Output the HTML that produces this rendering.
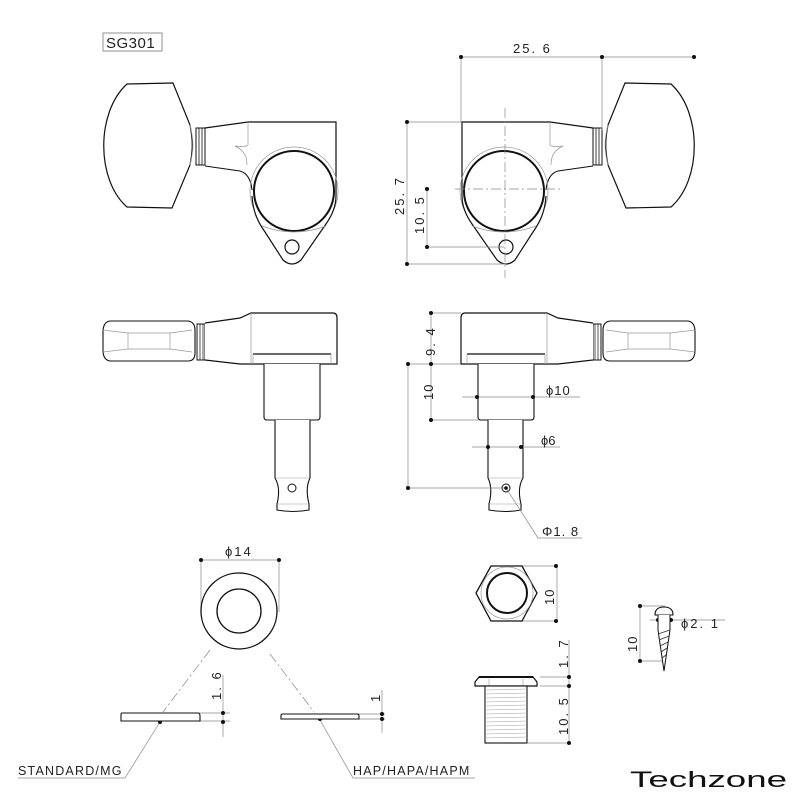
<!DOCTYPE html>
<html><head><meta charset="utf-8"><style>
html,body{margin:0;padding:0;background:#fff}
svg{display:block}
text{font-family:"Liberation Sans",sans-serif;fill:#222}
</style></head><body>
<svg width="800" height="800" viewBox="0 0 800 800" xmlns="http://www.w3.org/2000/svg">
<defs>
<g id="top">
  <path d="M173,83 L127,84 C96,112 96,180 127,207 L172,208 L190,165 C193,150 193,140 190,125 Z" fill="#fff" stroke="#111" stroke-width="1.2"/>
  <path d="M190,125 C194,140 194,150 190,165" fill="none" stroke="#aaa" stroke-width="0.7"/>
  <rect x="196" y="128" width="9" height="37" fill="#fff" stroke="#111" stroke-width="1"/>
  <line x1="199" y1="128" x2="199" y2="165" stroke="#111" stroke-width="0.8"/>
  <line x1="202" y1="128" x2="202" y2="165" stroke="#111" stroke-width="0.8"/>
  <path d="M205,128 L248,122 L336,122 L336,196" fill="none" stroke="#111" stroke-width="1.2"/>
  <path d="M205,166 L240,171 C247,173 251,180 252,190" fill="none" stroke="#111" stroke-width="1.1"/>
  <path d="M248,122 L248,145 C245,148 240,146 235,146 C243,150 247,155 247,165" fill="none" stroke="#999" stroke-width="0.7"/>
  <circle cx="294" cy="191" r="44" fill="none" stroke="#999" stroke-width="0.7"/>
  <path d="M252,196 C253,212 258,222 265,232 L283,260 Q292,268 301,260 L326,224 C333,214 336,205 336,196" fill="#fff" stroke="#111" stroke-width="1.2"/>
  <circle cx="294" cy="191" r="40" fill="#fff" stroke="#111" stroke-width="2"/>
  <path d="M262,226 Q294,238 326,226" fill="none" stroke="#999" stroke-width="0.7"/>
  <circle cx="292" cy="247" r="7" fill="#fff" stroke="#111" stroke-width="1.2"/>
</g>
<g id="side">
  <path d="M110,321 L188,321 Q195,322 195,330 L195,353 Q195,361 188,361 L110,361 Q103,360 103,350 L103,332 Q103,322 110,321 Z" fill="#fff" stroke="#111" stroke-width="1.1"/>
  <path d="M103,330 L128,333 L170,333 L192,330 M103,352 L128,349 L170,349 L192,352 M128,333 L128,349 M170,333 L170,349" fill="none" stroke="#999" stroke-width="0.7"/>
  <rect x="197" y="324" width="8" height="36" fill="#fff" stroke="#111" stroke-width="1"/>
  <line x1="200" y1="324" x2="200" y2="360" stroke="#111" stroke-width="0.7"/>
  <line x1="203" y1="324" x2="203" y2="360" stroke="#111" stroke-width="0.7"/>
  <path d="M205,323 L240,318 L251,313 L333,313 Q337,313 337,318 L337,364 L251,364 L240,364 L205,360" fill="#fff" stroke="#111" stroke-width="1.2"/>
  <line x1="251" y1="313" x2="251" y2="364" stroke="#999" stroke-width="0.7"/>
  <line x1="253" y1="354" x2="331" y2="354" stroke="#111" stroke-width="1.2"/>
  <line x1="253" y1="354" x2="253" y2="364" stroke="#999" stroke-width="0.7"/>
  <line x1="331" y1="354" x2="331" y2="364" stroke="#999" stroke-width="0.7"/>
  <path d="M264,364 L264,417 Q264,420 267,420 L317,420 Q320,420 320,417 L320,364" fill="#fff" stroke="#111" stroke-width="1.1"/>
  <path d="M275,420 L275,478 Q281,488 277,504 L277,510 Q293,513 309,510 L309,504 Q305,488 310,478 L310,420" fill="#fff" stroke="#111" stroke-width="1.1"/>
  <line x1="276" y1="478" x2="309" y2="478" stroke="#999" stroke-width="0.6"/>
  <line x1="278" y1="504" x2="308" y2="504" stroke="#999" stroke-width="0.6"/>
  <circle cx="292" cy="488" r="4" fill="#fff" stroke="#111" stroke-width="1"/>
</g>
</defs>

<rect x="103" y="33" width="59" height="18" fill="none" stroke="#777" stroke-width="0.8"/>
<text x="106" y="48" font-size="15" letter-spacing="0.5">SG301</text>

<use href="#top"/>
<use href="#top" transform="translate(798,0) scale(-1,1)"/>
<use href="#side"/>
<use href="#side" transform="translate(798,0) scale(-1,1)"/>

<g stroke="#888" stroke-width="0.7" fill="none">
  <line x1="461" y1="57" x2="694" y2="57"/>
  <line x1="461" y1="57" x2="461" y2="122"/>
  <line x1="602" y1="57" x2="602" y2="130"/>
  <line x1="407" y1="122" x2="461" y2="122"/>
  <line x1="407" y1="122" x2="407" y2="264"/>
  <line x1="407" y1="264" x2="506" y2="264"/>
  <line x1="427" y1="189" x2="427" y2="247"/>
  <line x1="427" y1="247" x2="504" y2="247"/>
  <line x1="431" y1="313" x2="461" y2="313"/>
  <line x1="431" y1="313" x2="431" y2="420"/>
  <line x1="408" y1="364" x2="461" y2="364"/>
  <line x1="408" y1="364" x2="408" y2="488"/>
  <line x1="408" y1="488" x2="506" y2="488"/>
  <line x1="431" y1="420" x2="478" y2="420"/>
  <line x1="462" y1="397" x2="580" y2="397"/>
  <line x1="472" y1="447" x2="560" y2="447"/>
  <polyline points="506,488 538,538 582,538"/>
  <line x1="201" y1="560" x2="279" y2="560"/>
  <line x1="201" y1="560" x2="201" y2="612"/>
  <line x1="279" y1="560" x2="279" y2="612"/>
  <line x1="198" y1="713" x2="230" y2="713"/>
  <line x1="198" y1="721" x2="230" y2="721"/>
  <line x1="223" y1="675" x2="223" y2="737"/>
  <line x1="358" y1="714" x2="385" y2="714"/>
  <line x1="358" y1="719" x2="385" y2="719"/>
  <line x1="382" y1="690" x2="382" y2="733"/>
  <polyline points="160,722 125,778 18,778"/>
  <polyline points="320,720 353,778 475,778"/>
  <line x1="522" y1="566" x2="557" y2="566"/>
  <line x1="522" y1="621" x2="557" y2="621"/>
  <line x1="557" y1="566" x2="557" y2="621"/>
  <line x1="540" y1="677" x2="570" y2="677"/>
  <line x1="540" y1="686" x2="570" y2="686"/>
  <line x1="528" y1="743" x2="570" y2="743"/>
  <line x1="569" y1="640" x2="569" y2="743"/>
  <line x1="640" y1="606" x2="665" y2="606"/>
  <line x1="640" y1="661" x2="665" y2="661"/>
  <line x1="640" y1="606" x2="640" y2="661"/>
  <line x1="650" y1="620" x2="725" y2="620"/>
</g>
<g stroke="#888" stroke-width="0.7" stroke-dasharray="10,3,2,3" fill="none">
  <line x1="505" y1="108" x2="505" y2="278"/>
  <line x1="455" y1="189" x2="562" y2="189"/>
  <line x1="210" y1="650" x2="163" y2="712"/>
  <line x1="270" y1="654" x2="314" y2="712"/>
</g>
<g fill="#111">
  <circle cx="461" cy="57" r="2"/><circle cx="602" cy="57" r="2"/><circle cx="694" cy="57" r="2"/>
  <circle cx="407" cy="122" r="2"/><circle cx="407" cy="264" r="2"/>
  <circle cx="427" cy="189" r="2"/><circle cx="427" cy="247" r="2"/>
  <circle cx="431" cy="313" r="2"/><circle cx="431" cy="364" r="2"/><circle cx="431" cy="420" r="2"/>
  <circle cx="408" cy="364" r="2"/><circle cx="408" cy="488" r="2"/>
  <circle cx="477" cy="397" r="2"/><circle cx="533" cy="397" r="2"/>
  <circle cx="488" cy="447" r="2"/><circle cx="521" cy="447" r="2"/>
  <circle cx="506" cy="488" r="1.8"/>
  <circle cx="201" cy="560" r="2"/><circle cx="279" cy="560" r="2"/>
  <circle cx="223" cy="713" r="2"/><circle cx="223" cy="722" r="2"/>
  <circle cx="382" cy="714" r="2"/><circle cx="382" cy="719" r="2"/>
  <circle cx="160" cy="722" r="2"/><circle cx="320" cy="719" r="2"/>
  <circle cx="556" cy="566" r="2"/><circle cx="556" cy="621" r="2"/>
  <circle cx="569" cy="677" r="2"/><circle cx="569" cy="686" r="2"/><circle cx="569" cy="743" r="2"/>
  <circle cx="640" cy="606" r="2"/><circle cx="640" cy="661" r="2"/>
  <circle cx="658" cy="620" r="2"/><circle cx="671" cy="620" r="2"/>
</g>

<g font-size="13">
  <text x="513" y="53" letter-spacing="2">25. 6</text>
  <text transform="translate(404,215) rotate(-90)" letter-spacing="2">25. 7</text>
  <text transform="translate(424,234) rotate(-90)" letter-spacing="2">10. 5</text>
  <text transform="translate(435,356) rotate(-90)" letter-spacing="2">9. 4</text>
  <text transform="translate(433,400) rotate(-90)" letter-spacing="1">10</text>
  <text x="546" y="395" letter-spacing="1">ϕ10</text>
  <text x="541" y="445">ϕ6</text>
  <text x="542" y="536" letter-spacing="1">Φ1. 8</text>
  <text x="225" y="556" letter-spacing="2">ϕ14</text>
  <text transform="translate(221,700) rotate(-90)" letter-spacing="2">1. 6</text>
  <text transform="translate(380,702) rotate(-90)">1</text>
  <text x="18" y="775" letter-spacing="1.2" font-size="12.5">STANDARD/MG</text>
  <text x="353" y="775" letter-spacing="1.2" font-size="12.5">HAP/HAPA/HAPM</text>
  <text transform="translate(554,605) rotate(-90)" letter-spacing="1">10</text>
  <text transform="translate(568,668) rotate(-90)" letter-spacing="2">1. 7</text>
  <text transform="translate(568,735) rotate(-90)" letter-spacing="2">10. 5</text>
  <text transform="translate(637,652) rotate(-90)" letter-spacing="1">10</text>
  <text x="681" y="628" letter-spacing="2">ϕ2. 1</text>
</g>

<circle cx="239" cy="611" r="38" fill="none" stroke="#111" stroke-width="1.3"/>
<circle cx="239" cy="611" r="22" fill="none" stroke="#111" stroke-width="1.3"/>
<path d="M122,713 L198,713 Q200,713 200,716 L200,721 L121,721 L121,715 Q121,713 122,713 Z" fill="#fff" stroke="#111" stroke-width="1.1"/>
<path d="M282,714 L357,714 Q359,714 359,716 L359,719 L281,719 L281,715 Z" fill="#fff" stroke="#111" stroke-width="1.1"/>

<polygon points="491,566 522,566 537,593 522,621 491,621 476,593" fill="#fff" stroke="#111" stroke-width="1.3"/>
<circle cx="507" cy="593" r="26" fill="none" stroke="#999" stroke-width="0.7"/>
<circle cx="507" cy="593" r="20" fill="none" stroke="#111" stroke-width="2"/>

<path d="M479,677 L533,677 L537,682 L537,686 L475,686 L475,682 Z" fill="#fff" stroke="#111" stroke-width="1.2"/>
<line x1="479" y1="677" x2="533" y2="677" stroke="#111" stroke-width="2"/>
<line x1="489" y1="679" x2="489" y2="686" stroke="#999" stroke-width="0.6"/>
<line x1="523" y1="679" x2="523" y2="686" stroke="#999" stroke-width="0.6"/>
<rect x="485" y="686" width="42" height="57" fill="#fff" stroke="#111" stroke-width="1.1"/>
<g stroke="#aaa" stroke-width="0.6">
  <line x1="485" y1="690" x2="527" y2="689"/><line x1="485" y1="694" x2="527" y2="693"/>
  <line x1="485" y1="698" x2="527" y2="697"/><line x1="485" y1="702" x2="527" y2="701"/>
  <line x1="485" y1="706" x2="527" y2="705"/><line x1="485" y1="710" x2="527" y2="709"/>
  <line x1="485" y1="714" x2="527" y2="713"/><line x1="485" y1="718" x2="527" y2="717"/>
  <line x1="485" y1="722" x2="527" y2="721"/><line x1="485" y1="726" x2="527" y2="725"/>
  <line x1="485" y1="730" x2="527" y2="729"/><line x1="485" y1="734" x2="527" y2="733"/>
  <line x1="485" y1="738" x2="527" y2="737"/>
</g>

<path d="M655,615 Q655,607 664,607 Q673,607 673,615 Z" fill="#fff" stroke="#111" stroke-width="1.1"/>
<path d="M658,615 L658,630 L664,671 L670,630 L670,615" fill="#fff" stroke="#111" stroke-width="1"/>
<g stroke="#333" stroke-width="0.8">
  <line x1="658" y1="634" x2="670" y2="630"/><line x1="659" y1="640" x2="669" y2="636"/>
  <line x1="660" y1="646" x2="668" y2="642"/><line x1="661" y1="652" x2="667" y2="648"/>
  <line x1="662" y1="658" x2="666" y2="655"/>
</g>

<text x="630" y="787" font-size="22" textLength="157" lengthAdjust="spacingAndGlyphs" style="fill:#111">Techzone</text>
</svg>
</body></html>
